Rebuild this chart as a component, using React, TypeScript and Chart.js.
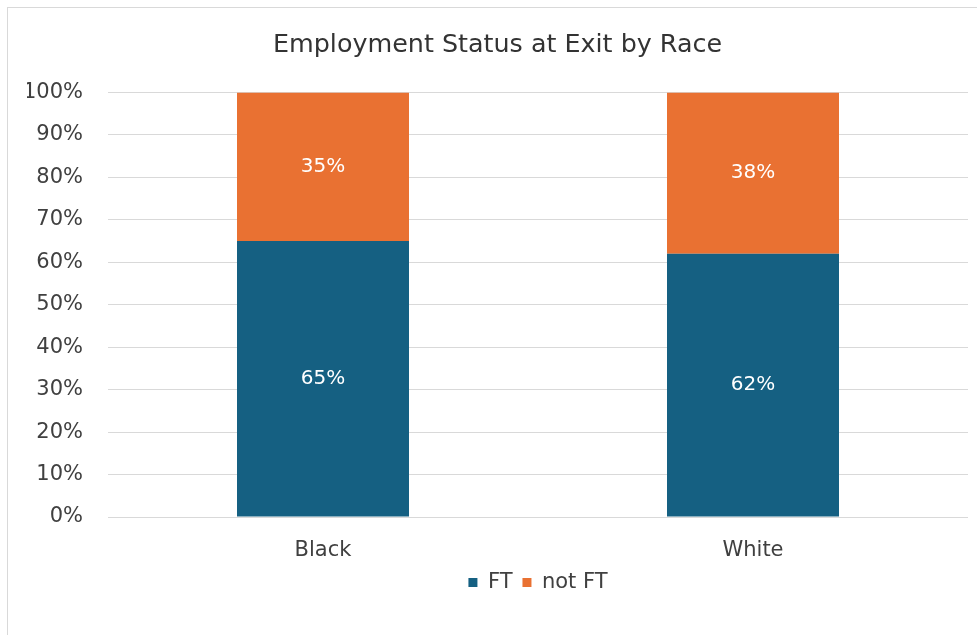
import React, { useEffect, useRef } from "react";
import { Chart, registerables } from "chart.js";

Chart.register(...registerables);

const categories = ["Black", "White"];
const ftValues = [65, 62];
const notFtValues = [35, 38];
const yTicks = [0, 10, 20, 30, 40, 50, 60, 70, 80, 90, 100];

const FONT = "'DejaVu Sans', sans-serif";
const TEXT = "#404040";

const dataLabelPlugin = {
  id: "dataLabels",
  afterDatasetsDraw(chart: any) {
    const ctx = chart.ctx;
    ctx.save();
    ctx.fillStyle = "#ffffff";
    ctx.font = `20px ${FONT}`;
    ctx.textAlign = "center";
    ctx.textBaseline = "middle";
    chart.data.datasets.forEach((ds: any, di: number) => {
      const meta = chart.getDatasetMeta(di);
      meta.data.forEach((el: any, i: number) => {
        const v = ds.data[i];
        const y = (el.y + el.base) / 2;
        ctx.fillText(`${v}%`, el.x, y);
      });
    });
    ctx.restore();
  },
};

export default function App() {
  const ref = useRef<HTMLCanvasElement | null>(null);
  useEffect(() => {
    if (!ref.current) return;
    const chart = new Chart(ref.current, {
      type: "bar",
      data: {
        labels: categories,
        datasets: [
          { label: "FT", data: ftValues, backgroundColor: "#156082", barPercentage: 0.4, categoryPercentage: 1 },
          { label: "not FT", data: notFtValues, backgroundColor: "#E97132", barPercentage: 0.4, categoryPercentage: 1 },
        ],
      },
      options: {
        responsive: false,
        animation: false,
        devicePixelRatio: 1,
        layout: { padding: { left: 27, right: 9, top: 0, bottom: 32 } },
        plugins: {
          title: {
            display: true,
            text: "Employment Status at Exit by Race",
            color: "#333333",
            font: { family: FONT, size: 25.4, weight: "normal" },
            padding: { top: 30, bottom: 32 },
          },
          legend: {
            position: "bottom",
            fullSize: false,
            labels: {
              color: TEXT,
              font: { family: FONT, size: 21 },
              boxWidth: 9,
              boxHeight: 9,
              padding: 10,
            },
          },
          tooltip: { enabled: false },
        },
        scales: {
          x: {
            stacked: true,
            afterFit(scale: any) {
              scale.height = 45;
            },
            grid: { display: false, drawTicks: false },
            border: { display: false },
            ticks: { color: TEXT, font: { family: FONT, size: 21 }, padding: 21, maxRotation: 0 },
          },
          y: {
            stacked: true,
            min: 0,
            max: 100,
            afterFit(scale: any) {
              scale.width = 81;
            },
            afterBuildTicks(scale: any) {
              scale.ticks = yTicks.map((v) => ({ value: v }));
            },
            grid: { color: "#d9d9d9", lineWidth: 1, drawTicks: false },
            border: { display: false },
            ticks: {
              color: TEXT,
              font: { family: FONT, size: 21 },
              padding: 25,
              callback: (v: any) => `${v}%`,
            },
          },
        },
      },
      plugins: [dataLabelPlugin],
    });
    return () => chart.destroy();
  }, []);
  return (
    <>
      <div
        style={{
          position: "fixed",
          left: 7,
          top: 7,
          width: 1000,
          height: 700,
          border: "1px solid #d9d9d9",
          boxSizing: "border-box",
        }}
      />
      <canvas
        ref={ref}
        width={977}
        height={635}
        style={{ position: "fixed", left: 0, top: 0, width: 977, height: 635 }}
      />
    </>
  );
}
